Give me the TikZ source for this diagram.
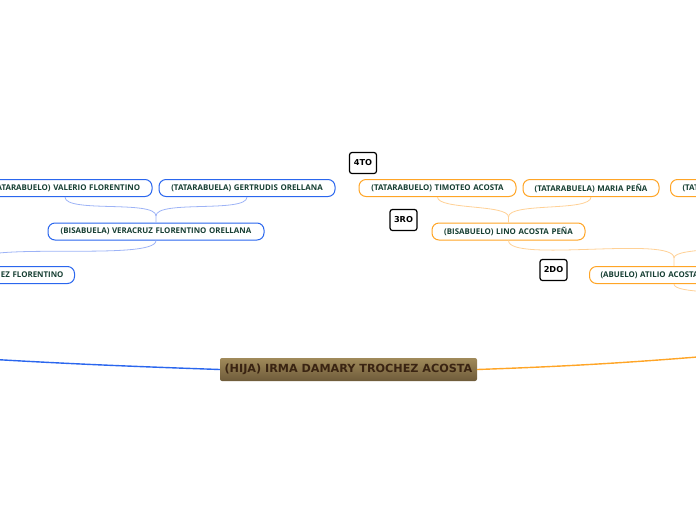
\documentclass[tikz,border=0pt]{standalone}
\usepackage{fontspec}
\setmainfont{Open Sans}
\newfontfamily\hijafont{DejaVu Sans}
\usepackage{xcolor}
\usepackage{tikz}
\usetikzlibrary{positioning, calc}
\definecolor{ramaAzul}{HTML}{2A66EE}
\definecolor{lineaAzul}{HTML}{9DB3F6}
\definecolor{ramaNaranja}{HTML}{FFA526}
\definecolor{lineaNaranja}{HTML}{FFD196}
\definecolor{inkVerde}{HTML}{173F33}
\definecolor{hijaTop}{HTML}{A08A5A}
\definecolor{hijaBot}{HTML}{6E5B3A}
\definecolor{hijaInk}{HTML}{3A2412}
\tikzset{
  fam/.style={line width=1pt, rounded corners=7pt, fill=white, font=\fontsize{7.9}{9}\selectfont\bfseries,
    text=inkVerde, minimum height=17pt, inner ysep=0pt, inner xsep=0pt, align=center},
  azul/.style={fam, draw=ramaAzul},
  naranja/.style={fam, draw=ramaNaranja},
  hija/.style={rounded corners=2pt, top color=hijaTop, bottom color=hijaBot, draw=none,
    font=\hijafont\fontsize{11.2}{13}\selectfont\bfseries, text=hijaInk, minimum height=23pt, inner sep=0pt},
  grado/.style={draw=black, line width=1.2pt, rounded corners=2.5pt, fill=white, minimum width=27pt,
    minimum height=21pt, inner sep=0pt, font=\hijafont\fontsize{8.2}{9}\selectfont\bfseries},
  finoA/.style={draw=lineaAzul, line width=0.8pt},
  finoN/.style={draw=lineaNaranja, line width=0.8pt},
  gruesoA/.style={draw=ramaAzul, line width=1.4pt},
  gruesoN/.style={draw=ramaNaranja, line width=1.4pt},
}

\begin{document}
\begin{tikzpicture}[x=1pt, y=-1pt]
  \useasboundingbox (0,0) rectangle (696,520);
  \clip (0,0) rectangle (696,520);

  % generations
  \node[grado] (cuarto) at (363,163) {4TO};
  \node[grado] (tercero) at (403.5,220) {3RO};
  \node[grado] (segundo) at (553.5,270) {2DO};

  % father's side
  \node[azul, text width=174pt] (valerio) at (65,188) {(TATARABUELO) VALERIO FLORENTINO};
  \node[azul, text width=176pt] (gertrudis) at (247,188) {(TATARABUELA) GERTRUDIS ORELLANA};
  \node[azul, text width=216pt] (veracruz) at (156,231.5) {(BISABUELA) VERACRUZ FLORENTINO ORELLANA};
  \node[azul, text width=138pt, inner xsep=11pt, align=right, anchor=east] (abuelaP) at (75,275) {EZ FLORENTINO};

  % mother's side
  \node[naranja, text width=157pt] (timoteo) at (437.5,188) {(TATARABUELO) TIMOTEO ACOSTA};
  \node[naranja, text width=136pt] (maria) at (591,188) {(TATARABUELA) MARIA PE\~NA};
  \node[naranja, text width=138pt, inner xsep=12pt, align=left, anchor=west] (tatDer) at (670,188) {(TATARABUELO)};
  \node[naranja, text width=153pt] (lino) at (508.5,231.5) {(BISABUELO) LINO ACOSTA PE\~NA};
  \node[naranja, text width=158pt, inner xsep=11pt, align=left, anchor=west] (atilio) at (589,275) {(ABUELO) ATILIO ACOSTA};

  % central topic
  \node[hija, minimum width=257pt] (irma) at (348.5,369.5) {(HIJA) IRMA DAMARY TROCHEZ ACOSTA};

  % junctions and off-page ends
  \coordinate (jVeracruz) at (156,216);
  \coordinate (jAbuelaP) at (-25,262);
  \coordinate (jLino) at (508.5,217);
  \coordinate (jAtilio) at (674,258);
  \coordinate (bisabuelaDer) at (760,240);
  \coordinate (madre) at (740,300);
  \coordinate (padre) at (-120,352);
  \coordinate (madreRama) at (780,350);

  % thin links
  \draw[finoA] (valerio.south) to[out=-90, in=90, looseness=0.45] (jVeracruz) -- (veracruz.north);
  \draw[finoA] (gertrudis.south) to[out=-90, in=90, looseness=0.45] (jVeracruz);
  \draw[finoA] (veracruz.south) to[out=-90, in=90, looseness=0.3] (jAbuelaP) -- (jAbuelaP |- abuelaP.north);
  \draw[finoN] (timoteo.south) to[out=-90, in=90, looseness=0.45] (jLino) -- (lino.north);
  \draw[finoN] (maria.south) to[out=-90, in=90, looseness=0.45] (jLino);
  \draw[finoN] (lino.south) to[out=-90, in=90, looseness=0.35] (jAtilio) -- (jAtilio |- atilio.north);
  \draw[finoN] (bisabuelaDer) to[out=-90, in=90, looseness=0.35] (jAtilio);
  \draw[finoN] (jAtilio |- atilio.south) to[out=-90, in=90, looseness=0.4] (madre);

  % main branches
  \draw[gruesoA] (irma.west) to[out=178, in=-4] (padre);
  \draw[gruesoN] (irma.east) to[out=2, in=185] (madreRama);
\end{tikzpicture}
\end{document}
